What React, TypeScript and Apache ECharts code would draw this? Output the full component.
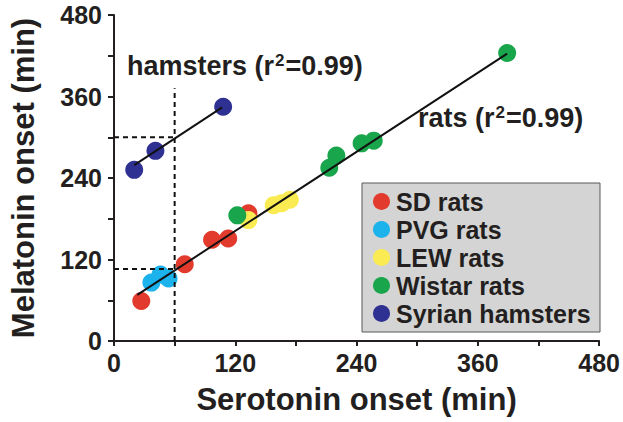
import React, { useEffect, useRef } from "react";
import * as echarts from "echarts";

const sdRats: [number, number][] = [[27, 59], [70, 113], [97, 149], [113, 151], [133, 188]];
const pvgRats: [number, number][] = [[37, 86], [46, 98], [54, 92]];
const lewRats: [number, number][] = [[133, 178], [158, 200], [166, 203], [174, 208]];
const wistarRats: [number, number][] = [[122, 185], [213, 255], [220, 273], [245, 291], [257, 295], [389, 424]];
const syrianHamsters: [number, number][] = [[20, 252], [41, 280], [108, 345]];

const ratFit: [number, number][] = [[23, 68], [389, 423]];
const hamsterFit: [number, number][] = [[20, 259], [107, 344]];
const hamsterGuideH: [number, number][] = [[0, 300], [60, 300]];
const ratGuideH: [number, number][] = [[0, 106], [60, 106]];
const guideV: [number, number][] = [[60, 0], [60, 372]];

const xTicks = [0, 120, 240, 360, 480];
const yTicks = [0, 120, 240, 360, 480];

const FONT = "Liberation Sans, Arial, Helvetica, sans-serif";
const INK = "#231f20";

export default function App() {
  const ref = useRef<HTMLDivElement>(null);
  useEffect(() => {
    if (!ref.current) return;
    const chart = echarts.init(ref.current, undefined, { renderer: "svg" });
    const scatter = (name: string, data: [number, number][], color: string) => ({
      name,
      type: "scatter",
      data,
      symbolSize: 18,
      itemStyle: { color, opacity: 1 },
      z: 2,
    });
    const line = (data: [number, number][], dashed: boolean) => ({
      type: "line",
      data,
      symbol: "none",
      silent: true,
      lineStyle: { color: "#111", width: 2, type: dashed ? [5, 4] : "solid" },
      z: 5,
    });
    const richLabel = {
      a: { fontSize: 27, fontWeight: "bold", fontFamily: FONT, fill: INK },
      s: { fontSize: 17, fontWeight: "bold", fontFamily: FONT, fill: INK, verticalAlign: "top", padding: [0, 1, 12, 1] },
    };
    chart.setOption({
      animation: false,
      backgroundColor: "#ffffff",
      textStyle: { fontFamily: FONT },
      grid: { left: 113, right: 23, top: 15, bottom: 81 },
      xAxis: {
        type: "value",
        min: 0,
        max: 480,
        interval: 60,
        splitLine: { show: false },
        axisLine: { show: true, onZero: false, lineStyle: { color: INK, width: 2 } },
        axisTick: { show: true, length: 5, lineStyle: { color: INK, width: 2 } },
        axisLabel: {
          color: INK,
          fontSize: 25,
          fontWeight: "bold",
          fontFamily: FONT,
          margin: 9,
          formatter: (v: number) => (xTicks.includes(v) ? String(v) : ""),
        },
        name: "Serotonin onset (min)",
        nameLocation: "middle",
        nameGap: 43,
        nameTextStyle: { color: INK, fontSize: 31, fontWeight: "bold", fontFamily: FONT },
      },
      yAxis: {
        type: "value",
        min: 0,
        max: 480,
        interval: 60,
        splitLine: { show: false },
        axisLine: { show: true, onZero: false, lineStyle: { color: INK, width: 2 } },
        axisTick: { show: true, length: 6, lineStyle: { color: INK, width: 2 } },
        axisLabel: {
          color: INK,
          fontSize: 25,
          fontWeight: "bold",
          fontFamily: FONT,
          margin: 12,
          formatter: (v: number) => (yTicks.includes(v) ? String(v) : ""),
        },
        name: "Melatonin onset (min)",
        nameLocation: "middle",
        nameGap: 75,
        nameTextStyle: { color: INK, fontSize: 31, fontWeight: "bold", fontFamily: FONT },
      },
      legend: {
        orient: "vertical",
        left: 368,
        top: 184,
        itemWidth: 17,
        itemHeight: 17,
        itemGap: 3,
        icon: "circle",
        data: ["SD rats", "PVG rats", "LEW rats", "Wistar rats", "Syrian hamsters"],
        textStyle: { color: INK, fontSize: 25, fontWeight: "bold", fontFamily: FONT, padding: [0, 0, 0, 1] },
        z: 10,
      },
      graphic: [
        {
          type: "rect",
          shape: { x: 362, y: 183, width: 238, height: 149 },
          style: { fill: "#d4d4d4", stroke: "#58595b", lineWidth: 1 },
          z: 1,
        },
        {
          type: "text",
          x: 127,
          y: 66,
          style: { text: "{a|hamsters (r}{s|2}{a|=0.99)}", verticalAlign: "middle", rich: richLabel },
          z: 10,
        },
        {
          type: "text",
          x: 418,
          y: 118,
          style: { text: "{a|rats (r}{s|2}{a|=0.99)}", verticalAlign: "middle", rich: richLabel },
          z: 10,
        },
      ],
      series: [
        scatter("SD rats", sdRats, "#e23a2c"),
        scatter("PVG rats", pvgRats, "#1cb2ec"),
        scatter("LEW rats", lewRats, "#fbeb52"),
        scatter("Wistar rats", wistarRats, "#18a54b"),
        scatter("Syrian hamsters", syrianHamsters, "#2e3192"),
        line(ratFit, false),
        line(hamsterFit, false),
        line(hamsterGuideH, true),
        line(ratGuideH, true),
        line(guideV, true),
      ],
    });
    return () => chart.dispose();
  }, []);
  return (
    <div
      ref={ref}
      style={{ position: "fixed", left: 0, top: 0, width: 623, height: 422, background: "#fff" }}
    />
  );
}
